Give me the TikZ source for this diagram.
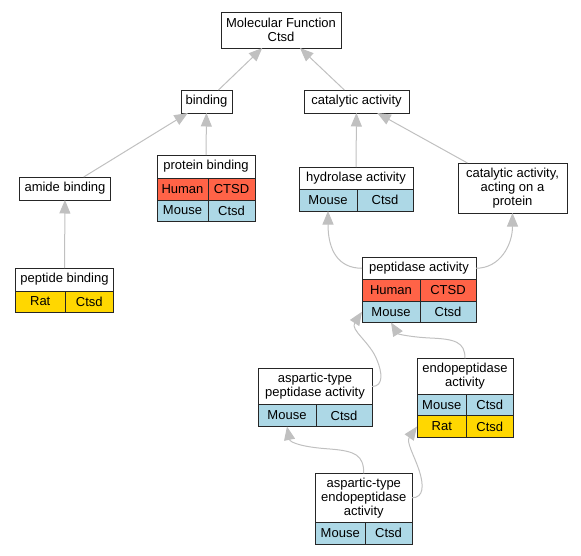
\documentclass[tikz,border=0pt]{standalone}
\usepackage{fontspec}
\setmainfont{Liberation Sans}
\usetikzlibrary{arrows.meta}
\definecolor{humanred}{HTML}{FF6347}
\definecolor{mouseblue}{HTML}{ADD8E6}
\definecolor{ratgold}{HTML}{FFD700}
\definecolor{edgegray}{HTML}{C0C0C0}
\tikzset{
  box/.style={draw=black!85, line width=1pt, fill=white, inner sep=0pt, outer sep=0pt, align=center, font=\fontsize{13}{14}\selectfont},
  human/.style={box, fill=humanred},
  mouse/.style={box, fill=mouseblue},
  rat/.style={box, fill=ratgold},
  edge/.style={draw=edgegray, line width=1pt, ->, >={Triangle[length=13.5pt,width=11pt]}}
}

\begin{document}
\begin{tikzpicture}[x=1pt,y=-1pt]
\useasboundingbox (0,0) rectangle (581,555);
\node[box, minimum width=120pt, minimum height=36pt] (mf) at (281,30) {Molecular Function\\Ctsd};
\node[box, minimum width=51pt, minimum height=23pt] (bind) at (206.5,101.5) {binding};
\node[box, minimum width=105pt, minimum height=23pt] (cat) at (356.5,101.5) {catalytic activity};
\node[box, minimum width=91pt, minimum height=23pt] (amide) at (65,188.5) {amide binding};
\node[box, minimum width=98pt, minimum height=23pt] (prot) at (206,166.5) {protein binding};
\node[human, minimum width=51pt, minimum height=22pt] (prot-h1) at (182.5,189) {Human};
\node[human, minimum width=47pt, minimum height=22pt] (prot-h2) at (231.5,189) {CTSD};
\node[mouse, minimum width=51pt, minimum height=21pt] (prot-m1) at (182.5,210.5) {Mouse};
\node[mouse, minimum width=47pt, minimum height=21pt] (prot-m2) at (231.5,210.5) {Ctsd};
\node[box, minimum width=114pt, minimum height=22pt] (hydro) at (356,178) {hydrolase activity};
\node[mouse, minimum width=58pt, minimum height=22pt] (hydro-m1) at (328,200) {Mouse};
\node[mouse, minimum width=56pt, minimum height=22pt] (hydro-m2) at (385,200) {Ctsd};
\node[box, minimum width=109pt, minimum height=50pt] (catprot) at (512.5,188) {catalytic activity,\\acting on a\\protein};
\node[box, minimum width=98pt, minimum height=23pt] (pepb) at (64.5,279.5) {peptide binding};
\node[rat, minimum width=49.5pt, minimum height=21pt] (pepb-r1) at (40.25,301.5) {Rat};
\node[rat, minimum width=48.5pt, minimum height=21pt] (pepb-r2) at (89.25,301.5) {Ctsd};
\node[box, minimum width=114pt, minimum height=22.5pt] (pep) at (419,268.25) {peptidase activity};
\node[human, minimum width=58pt, minimum height=21.5pt] (pep-h1) at (391,290.25) {Human};
\node[human, minimum width=56pt, minimum height=21.5pt] (pep-h2) at (448,290.25) {CTSD};
\node[mouse, minimum width=58pt, minimum height=21.5pt] (pep-m1) at (391,311.75) {Mouse};
\node[mouse, minimum width=56pt, minimum height=21.5pt] (pep-m2) at (448,311.75) {Ctsd};
\node[box, minimum width=114pt, minimum height=36pt] (asppep) at (315,386.5) {aspartic-type\\peptidase activity};
\node[mouse, minimum width=58pt, minimum height=22pt] (asppep-m1) at (287,415.5) {Mouse};
\node[mouse, minimum width=56pt, minimum height=22pt] (asppep-m2) at (344,415.5) {Ctsd};
\node[box, minimum width=96pt, minimum height=36pt] (endo) at (465,376.3) {endopeptidase\\activity};
\node[mouse, minimum width=49.5pt, minimum height=21.4pt] (endo-m1) at (441.75,405) {Mouse};
\node[mouse, minimum width=46.5pt, minimum height=21.4pt] (endo-m2) at (489.75,405) {Ctsd};
\node[rat, minimum width=49.5pt, minimum height=21.6pt] (endo-r1) at (441.75,426.5) {Rat};
\node[rat, minimum width=46.5pt, minimum height=21.6pt] (endo-r2) at (489.75,426.5) {Ctsd};
\node[box, minimum width=96.5pt, minimum height=49pt] (aspendo) at (363.75,497.8) {aspartic-type\\endopeptidase\\activity};
\node[mouse, minimum width=49.5pt, minimum height=21.7pt] (aspendo-m1) at (340.25,533.15) {Mouse};
\node[mouse, minimum width=47pt, minimum height=21.7pt] (aspendo-m2) at (388.5,533.15) {Ctsd};

\draw[edge] (bind) -- (mf);
\draw[edge] (cat) -- (mf);
\draw[edge] (amide) -- (bind);
\draw[edge] (prot) -- (bind);
\draw[edge] (hydro) -- (cat);
\draw[edge] (catprot) -- (cat);
\draw[edge] (pepb) -- (amide);
\draw[edge] (pep.west) .. controls (338,268.25) and (328,250) .. (hydro-m1.south);
\draw[edge] (pep.east) .. controls (500,268.25) and (512.5,245) .. (catprot.south);
\draw[edge] (asppep.east) .. controls (384,386.5) and (382,372) .. (377,360) .. controls (370,342) and (350,330) .. (pep-m1.west);
\draw[edge] (endo.north) .. controls (465,342) and (455,339) .. (430,338) .. controls (410,337) and (398,334) .. (pep-m1.south);
\draw[edge] (aspendo.north) .. controls (363.75,455) and (355,451) .. (330,449) .. controls (300,447) and (290,442) .. (asppep-m1.south);
\draw[edge] (aspendo.east) .. controls (424,497.8) and (424,485) .. (419,470) .. controls (414,455) and (406,442) .. (endo-r1.west);
\end{tikzpicture}
\end{document}
